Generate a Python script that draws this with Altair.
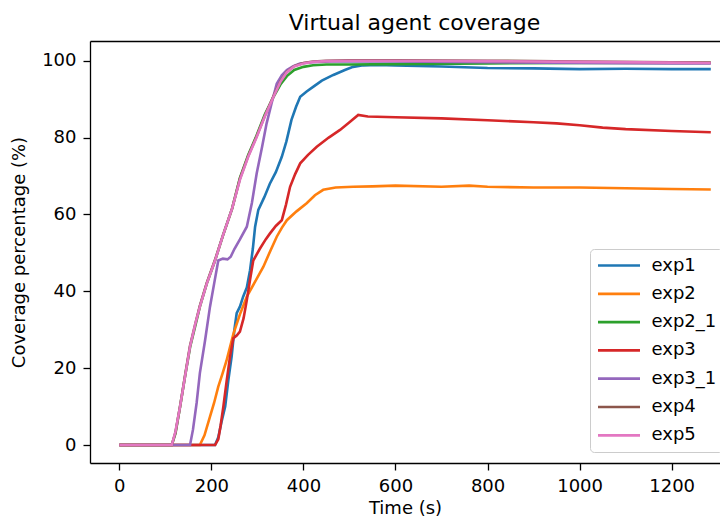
import altair as alt
import pandas as pd

series_names = ["exp1", "exp2", "exp2_1", "exp3", "exp3_1", "exp4", "exp5"]
series_colors = ["#1f77b4", "#ff7f0e", "#2ca02c", "#d62728", "#9467bd", "#8c564b", "#e377c2"]

exp1_t = [0, 208, 215, 222, 230, 237, 244, 250, 255, 262, 269, 277, 284, 290, 295, 302, 315, 327, 340, 353, 363, 374, 384, 393, 407, 421, 440, 465, 490, 508, 530, 560, 600, 700, 800, 900, 1000, 1100, 1200, 1285]
exp1_v = [0, 0, 2, 6, 10, 17, 23, 30, 34.3, 36, 38.6, 41, 45.5, 51, 56.8, 61.2, 64.5, 68, 71, 75, 79, 84.6, 88, 90.6, 92, 93.2, 94.8, 96.3, 97.6, 98.4, 98.8, 98.9, 98.8, 98.5, 98.1, 98.0, 97.8, 97.9, 97.8, 97.8]

exp2_t = [0, 175, 185, 197, 206, 215, 224, 233, 248, 262, 277, 295, 313, 328, 342, 353, 364, 385, 407, 425, 443, 470, 508, 550, 600, 700, 760, 800, 900, 1000, 1100, 1200, 1285]
exp2_v = [0, 0, 2.5, 7.4, 11, 15.2, 18.5, 22, 29, 34, 38.6, 42.5, 46.4, 50.5, 54.2, 56.5, 58.5, 60.8, 62.9, 65, 66.4, 67, 67.2, 67.3, 67.5, 67.2, 67.5, 67.2, 67, 67, 66.8, 66.6, 66.5]

exp2_1_t = [0, 114, 122, 132, 143, 154, 165, 175, 190, 208, 225, 245, 262, 280, 298, 316, 335, 350, 364, 380, 400, 421, 450, 500, 600, 800, 1000, 1285]
exp2_1_v = [0, 0, 3, 10, 18, 25.6, 31, 36, 42, 48, 54.5, 61.5, 69.5, 75.5, 80.5, 86, 90.6, 93.8, 96, 97.6, 98.4, 98.8, 99, 99, 99.1, 99.3, 99.4, 99.4]

exp3_t = [0, 208, 215, 220, 226, 233, 240.5, 247.7, 255, 262, 270, 277, 284, 291, 305, 318, 327, 340, 353, 362, 371, 382, 393, 410, 429, 455, 479.5, 500, 519, 540, 600, 700, 800, 900, 950, 1000, 1050, 1100, 1200, 1285]
exp3_v = [0, 0, 1.5, 5, 10, 16.5, 23, 27.8, 28.5, 29.5, 33, 37.7, 43, 48, 51, 53.5, 55, 57, 58.5, 62.5, 67.2, 70.5, 73.3, 75.5, 77.6, 80, 82, 84, 85.9, 85.5, 85.3, 85, 84.5, 84, 83.7, 83.2, 82.6, 82.2, 81.7, 81.4]

exp3_1_t = [0, 153.6, 160, 168, 175, 186, 197, 206, 215, 225, 235, 242, 250, 262, 277, 288, 298.5, 310, 320, 331, 342, 353, 364, 378, 392.6, 420, 460, 500, 600, 800, 1000, 1200, 1285]
exp3_1_v = [0, 0, 4, 11, 18.7, 27, 36, 42, 48, 48.5, 48.3, 49, 51, 53.5, 56.8, 63, 70.7, 77.5, 83.7, 89, 94, 96.2, 97.6, 98.6, 99.3, 99.6, 99.8, 99.9, 99.8, 99.6, 99.4, 99.3, 99.3]

exp4_t = [0, 114, 122, 132, 143, 153.6, 165, 175, 190, 208, 225, 245, 262, 280, 298, 316, 335, 350, 364, 380, 400, 421, 450, 500, 600, 800, 1000, 1200, 1285]
exp4_v = [0, 0, 3.3, 10, 18.2, 25.8, 31.5, 36.2, 42.2, 48.2, 54.5, 61.5, 69.3, 75.2, 80.2, 85.6, 90.8, 94.6, 97.1, 98.6, 99.4, 99.8, 100, 100.1, 100.1, 100, 99.8, 99.6, 99.5]

exp5_t = [0, 114, 122, 132, 143, 153.6, 165, 175, 190, 208, 225, 245, 262, 280, 298, 316, 335, 350, 364, 380, 400, 421, 450, 500, 600, 800, 1000, 1200, 1285]
exp5_v = [0, 0, 3.5, 10, 18, 25.6, 31.5, 36, 42, 48, 54.5, 61.5, 69, 75, 80, 85.5, 90.6, 94.5, 97, 98.5, 99.3, 99.7, 99.9, 100, 100, 99.9, 99.7, 99.5, 99.4]

x_ticks = [0, 200, 400, 600, 800, 1000, 1200]
y_ticks = [0, 20, 40, 60, 80, 100]

series_data = {
    "exp1": (exp1_t, exp1_v),
    "exp2": (exp2_t, exp2_v),
    "exp2_1": (exp2_1_t, exp2_1_v),
    "exp3": (exp3_t, exp3_v),
    "exp3_1": (exp3_1_t, exp3_1_v),
    "exp4": (exp4_t, exp4_v),
    "exp5": (exp5_t, exp5_v),
}

rows = []
for name in series_names:
    ts, vs = series_data[name]
    for t, v in zip(ts, vs):
        rows.append({"series": name, "t": t, "v": v})
df = pd.DataFrame(rows)

FONT = "DejaVu Sans"
xscale = alt.Scale(domain=[-63.7, 1305], nice=False, zero=False)
yscale = alt.Scale(domain=[-4.68, 105.13], nice=False, zero=False)

lines = alt.Chart(df).mark_line(strokeWidth=2.6, clip=True).encode(
    x=alt.X("t:Q", scale=xscale,
            axis=alt.Axis(values=x_ticks, title="Time (s)", format="d",
                          labelPadding=7, titlePadding=4)),
    y=alt.Y("v:Q", scale=yscale,
            axis=alt.Axis(values=y_ticks, title="Coverage percentage (%)",
                          format="d", labelPadding=7, titlePadding=13)),
    color=alt.Color(
        "series:N",
        scale=alt.Scale(domain=series_names, range=series_colors),
        legend=alt.Legend(
            orient="none", legendX=500, legendY=208, title=None,
            symbolType="stroke", symbolSize=1764, symbolStrokeWidth=2.7,
            labelFontSize=18, labelFont=FONT, labelColor="black",
            clipHeight=20, rowPadding=8.3, padding=6.5, labelOffset=10,
            labelLimit=200,
            strokeColor="#cccccc", fillColor="rgba(255,255,255,0.8)",
            cornerRadius=4,
        ),
    ),
    detail="series:N",
)

top_frame = alt.Chart(df).mark_line(opacity=0).encode(
    x=alt.X("t:Q", scale=xscale,
            axis=alt.Axis(orient="top", labels=False, ticks=False, title=None,
                          domainColor="black", domainWidth=1.3, grid=False)),
    y=alt.Y("v:Q", scale=yscale),
)

chart = alt.layer(lines, top_frame).resolve_axis(x="independent").properties(
    width=630,
    height=422,
    autosize=alt.AutoSizeParams(type="none"),
    padding={"left": 82, "top": 33, "right": 0, "bottom": 53},
    title=alt.TitleParams("Virtual agent coverage", fontSize=22, fontWeight="normal",
                          font=FONT, color="black", anchor="middle", dx=9.5, offset=6),
).configure_view(stroke=None).configure_axis(
    grid=False,
    domainColor="black",
    domainWidth=1.3,
    tickColor="black",
    tickWidth=1.3,
    tickSize=7,
    labelFont=FONT,
    labelFontSize=18,
    labelColor="black",
    titleFont=FONT,
    titleFontSize=18,
    titleFontWeight="normal",
    titleColor="black",
)

chart.save("out.html", embed_options={"renderer": "svg", "actions": False})
